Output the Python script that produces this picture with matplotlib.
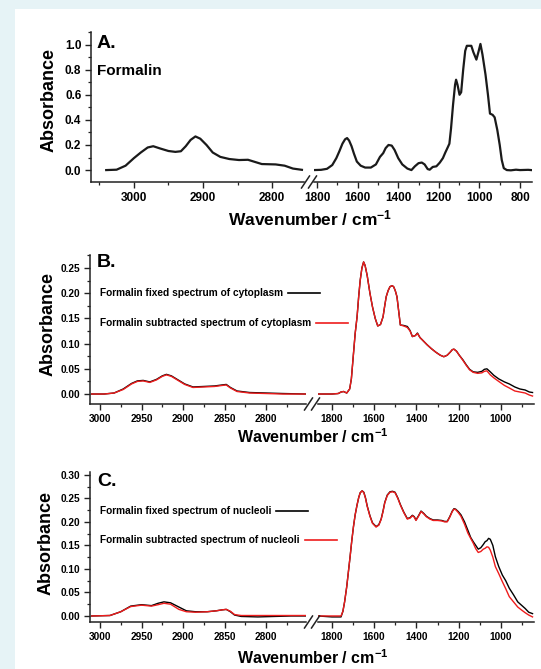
import matplotlib
matplotlib.use('Agg')
import matplotlib.pyplot as plt
from matplotlib.lines import Line2D
from matplotlib.patches import Rectangle
from matplotlib.ticker import MultipleLocator, FormatStrFormatter

plt.rcParams['font.family'] = ['Liberation Sans', 'DejaVu Sans']
plt.rcParams['font.weight'] = 'bold'
plt.rcParams['mathtext.fontset'] = 'custom'
plt.rcParams['mathtext.rm'] = 'Liberation Sans:bold'
plt.rcParams['mathtext.bf'] = 'Liberation Sans:bold'
plt.rcParams['mathtext.default'] = 'bf'

W, H = 541, 669

# ---- panel A: formalin
a_wn_hi = [3040, 3025, 3012, 3000, 2990, 2980, 2972, 2962, 2950, 2940, 2932, 2925,
           2918, 2911, 2904, 2895, 2886, 2875, 2862, 2848, 2835, 2825, 2815, 2795,
           2782, 2770, 2757]
a_abs_hi = [0.000, 0.003, 0.035, 0.095, 0.140, 0.180, 0.190, 0.172, 0.152, 0.145, 0.150, 0.190,
            0.240, 0.268, 0.250, 0.200, 0.140, 0.105, 0.088, 0.080, 0.082, 0.065, 0.048, 0.045,
            0.035, 0.012, 0.002]
a_wn_lo = [1815, 1780, 1751, 1725, 1705, 1690, 1675, 1662, 1652, 1642, 1630, 1618, 1604,
           1585, 1563, 1535, 1510, 1490, 1474, 1462, 1448, 1432, 1418, 1400, 1380, 1355,
           1335, 1318, 1300, 1284, 1270, 1255, 1245, 1230, 1212, 1195, 1180, 1168, 1155,
           1148, 1140, 1130, 1120, 1115, 1108, 1098, 1090, 1080, 1070, 1062, 1040, 1030,
           1015, 1005, 995, 985, 970, 958, 948, 935, 925, 912, 900, 890, 880, 865, 845,
           820, 800, 760, 745]
a_abs_lo = [0.000, 0.002, 0.010, 0.040, 0.095, 0.150, 0.210, 0.245, 0.255, 0.235, 0.190, 0.130, 0.068,
            0.035, 0.020, 0.020, 0.045, 0.105, 0.135, 0.175, 0.200, 0.195, 0.160, 0.095, 0.045, 0.012,
            0.000, 0.030, 0.055, 0.060, 0.045, 0.008, 0.003, 0.025, 0.030, 0.060, 0.095, 0.140, 0.185,
            0.210, 0.330, 0.520, 0.680, 0.720, 0.680, 0.600, 0.620, 0.800, 0.950, 0.990, 0.990, 0.940,
            0.880, 0.940, 1.005, 0.920, 0.760, 0.600, 0.450, 0.440, 0.420, 0.320, 0.200, 0.080, 0.015,
            0.000, -0.002, 0.003, 0.000, 0.002, 0.000]

# ---- panel B: cytoplasm
b_wn_hi = [3010, 2995, 2983, 2972, 2962, 2955, 2948, 2940, 2932, 2925, 2920, 2914, 2906,
           2898, 2888, 2875, 2862, 2853, 2848, 2843, 2835, 2820, 2800, 2780, 2752]
b_fixed_hi = [0.000, 0.000, 0.002, 0.010, 0.021, 0.026, 0.027, 0.024, 0.029, 0.036, 0.039, 0.036, 0.028,
              0.020, 0.014, 0.015, 0.016, 0.018, 0.019, 0.013, 0.006, 0.003, 0.002, 0.001, 0.000]
b_sub_hi = [0.000, 0.000, 0.002, 0.009, 0.020, 0.025, 0.026, 0.023, 0.028, 0.035, 0.038, 0.035, 0.027,
            0.019, 0.013, 0.014, 0.015, 0.017, 0.018, 0.012, 0.005, 0.002, 0.001, 0.000, 0.000]
b_wn_lo = [1866, 1830, 1800, 1770, 1757, 1745, 1730, 1716, 1708, 1698, 1690, 1681, 1673, 1666,
           1658, 1650, 1643, 1633, 1620, 1608, 1595, 1583, 1570, 1558, 1550, 1543, 1534, 1525,
           1515, 1508, 1500, 1492, 1484, 1476, 1460, 1443, 1430, 1419, 1405, 1395, 1383, 1371,
           1350, 1329, 1308, 1287, 1270, 1254, 1240, 1230, 1222, 1210, 1197, 1180, 1164, 1148,
           1131, 1110, 1090, 1078, 1066, 1050, 1033, 1010, 983, 960, 934, 910, 885, 865, 850]
b_fixed_lo = [0.000, 0.000, 0.000, 0.001, 0.004, 0.005, 0.002, 0.010, 0.030, 0.080, 0.120, 0.153, 0.195, 0.226,
              0.250, 0.262, 0.255, 0.235, 0.200, 0.173, 0.150, 0.135, 0.138, 0.153, 0.175, 0.193, 0.205, 0.213,
              0.215, 0.213, 0.205, 0.193, 0.165, 0.137, 0.136, 0.134, 0.126, 0.114, 0.116, 0.121, 0.112, 0.107,
              0.098, 0.090, 0.083, 0.077, 0.074, 0.077, 0.083, 0.088, 0.089, 0.085, 0.077, 0.068, 0.058, 0.049,
              0.044, 0.043, 0.045, 0.049, 0.050, 0.044, 0.037, 0.030, 0.024, 0.020, 0.014, 0.010, 0.008, 0.004, 0.003]
b_sub_lo = [0.000, 0.000, 0.000, 0.001, 0.004, 0.005, 0.002, 0.010, 0.030, 0.080, 0.120, 0.153, 0.195, 0.226,
            0.250, 0.262, 0.255, 0.235, 0.200, 0.173, 0.150, 0.135, 0.138, 0.153, 0.175, 0.193, 0.205, 0.213,
            0.215, 0.213, 0.205, 0.193, 0.165, 0.137, 0.135, 0.132, 0.125, 0.114, 0.116, 0.120, 0.112, 0.107,
            0.098, 0.090, 0.083, 0.077, 0.074, 0.077, 0.083, 0.088, 0.089, 0.085, 0.077, 0.067, 0.057, 0.048,
            0.043, 0.041, 0.042, 0.045, 0.046, 0.038, 0.032, 0.025, 0.017, 0.012, 0.006, 0.004, 0.002, -0.002, -0.004]

# ---- panel C: nucleoli
c_wn_hi = [3010, 2988, 2975, 2963, 2950, 2938, 2930, 2923, 2915, 2905, 2896, 2885,
           2871, 2860, 2853, 2848, 2843, 2838, 2830, 2810, 2790, 2770, 2752]
c_fixed_hi = [0.000, 0.001, 0.009, 0.021, 0.024, 0.022, 0.027, 0.030, 0.028, 0.019, 0.011, 0.009,
              0.009, 0.011, 0.013, 0.014, 0.009, 0.002, -0.001, -0.002, -0.001, 0.000, 0.000]
c_sub_hi = [0.000, 0.001, 0.009, 0.020, 0.023, 0.021, 0.024, 0.027, 0.025, 0.014, 0.009, 0.008,
            0.009, 0.011, 0.013, 0.014, 0.010, 0.003, 0.001, 0.001, 0.001, 0.001, 0.001]
c_wn_lo = [1866, 1800, 1757, 1748, 1740, 1730, 1722, 1714, 1706, 1698, 1690, 1681, 1673, 1666,
           1657, 1649, 1641, 1633, 1620, 1608, 1591, 1578, 1567, 1558, 1550, 1538, 1525, 1513,
           1501, 1488, 1476, 1460, 1443, 1430, 1419, 1410, 1402, 1390, 1378, 1365, 1353, 1336,
           1320, 1300, 1280, 1266, 1254, 1242, 1230, 1222, 1214, 1202, 1189, 1172, 1156, 1143,
           1131, 1119, 1107, 1095, 1083, 1074, 1066, 1058, 1050, 1038, 1026, 1010, 993, 977,
           960, 940, 920, 900, 885, 868, 850]
c_sub_lo = [0.000, 0.000, 0.000, 0.010, 0.030, 0.062, 0.094, 0.126, 0.160, 0.190, 0.215, 0.236, 0.252, 0.262,
            0.266, 0.262, 0.250, 0.233, 0.212, 0.197, 0.189, 0.193, 0.205, 0.222, 0.240, 0.256, 0.263, 0.264,
            0.262, 0.250, 0.236, 0.220, 0.206, 0.208, 0.213, 0.210, 0.203, 0.212, 0.222, 0.217, 0.211, 0.206,
            0.203, 0.203, 0.202, 0.200, 0.200, 0.210, 0.222, 0.227, 0.226, 0.220, 0.212, 0.195, 0.176, 0.165,
            0.155, 0.143, 0.135, 0.137, 0.142, 0.144, 0.147, 0.146, 0.140, 0.125, 0.105, 0.090, 0.073, 0.058,
            0.041, 0.030, 0.019, 0.012, 0.007, 0.002, -0.002]
c_fixed_lo = [0.000, -0.002, -0.002, 0.010, 0.030, 0.062, 0.094, 0.126, 0.160, 0.190, 0.215, 0.236, 0.252, 0.262,
              0.266, 0.263, 0.251, 0.234, 0.213, 0.198, 0.190, 0.194, 0.206, 0.223, 0.241, 0.257, 0.264, 0.265,
              0.263, 0.251, 0.237, 0.221, 0.207, 0.209, 0.214, 0.211, 0.204, 0.213, 0.223, 0.218, 0.212, 0.207,
              0.204, 0.204, 0.203, 0.201, 0.201, 0.211, 0.223, 0.228, 0.227, 0.222, 0.215, 0.200, 0.182, 0.167,
              0.158, 0.150, 0.142, 0.145, 0.152, 0.158, 0.160, 0.165, 0.163, 0.150, 0.126, 0.105, 0.087, 0.075,
              0.059, 0.045, 0.030, 0.022, 0.016, 0.008, 0.005]

legend_b = ['Formalin fixed spectrum of cytoplasm', 'Formalin subtracted spectrum of cytoplasm']
legend_c = ['Formalin fixed spectrum of nucleoli', 'Formalin subtracted spectrum of nucleoli']

fig = plt.figure(figsize=(W / 100, H / 100), dpi=100)
fig.patch.set_facecolor('#e6f3f6')
fig.add_artist(Rectangle((15 / W, 0), 1 - 15 / W, 1 - 9 / H, transform=fig.transFigure,
                         facecolor='white', edgecolor='none', zorder=-10))


def fx(px):
    return px / W


def fy(py):
    return 1 - py / H


def rect(x0, x1, y0, y1):
    return [fx(x0), fy(y1), (x1 - x0) / W, (y1 - y0) / H]


def style(ax, left_spine, fs):
    ax.set_facecolor('none')
    for s in ['top', 'right']:
        ax.spines[s].set_visible(False)
    ax.spines['left'].set_visible(left_spine)
    for s in ['left', 'bottom']:
        ax.spines[s].set_color('#222222')
        ax.spines[s].set_linewidth(1.1)
    ax.tick_params(which='major', direction='out', length=4, width=1, labelsize=fs,
                   color='#222222', pad=3)
    ax.tick_params(which='minor', direction='out', length=2.5, width=0.9, color='#222222')
    if not left_spine:
        ax.tick_params(axis='y', which='both', left=False, labelleft=False)


def panel(xl, xg, xr, yt, yb, lim_hi, lim_lo, ylim, ystep, ymin, yfmt, xstep_hi, xmin_hi, fs):
    ax1 = fig.add_axes(rect(xl, xg[0], yt, yb))
    ax2 = fig.add_axes(rect(xg[1], xr, yt, yb))
    style(ax1, True, fs)
    style(ax2, False, fs)
    ax1.set_xlim(*lim_hi)
    ax2.set_xlim(*lim_lo)
    ax1.set_ylim(*ylim)
    ax2.set_ylim(*ylim)
    ax1.xaxis.set_major_locator(MultipleLocator(xstep_hi))
    ax1.xaxis.set_minor_locator(MultipleLocator(xmin_hi))
    ax2.xaxis.set_major_locator(MultipleLocator(200))
    ax2.xaxis.set_minor_locator(MultipleLocator(100))
    ax1.yaxis.set_major_locator(MultipleLocator(ystep))
    ax1.yaxis.set_minor_locator(MultipleLocator(ymin))
    ax1.yaxis.set_major_formatter(FormatStrFormatter(yfmt))
    # break marks
    gc = (xg[0] + xg[1]) / 2
    for d in (-3.5, 3.5):
        fig.add_artist(Line2D([fx(gc + d - 4), fx(gc + d + 4)], [fy(yb + 6), fy(yb - 6)],
                              transform=fig.transFigure, color='#222222', lw=1.1))
    return ax1, ax2


# A
a1, a2 = panel(91, (304, 314), 532, 32, 182, (3062, 2754), (1815, 741), (-0.095, 1.10),
               0.2, 0.1, '%.1f', 100, 50, 8.5)
a1.plot(a_wn_hi, a_abs_hi, color='#1a1a1a', lw=1.6)
a2.plot(a_wn_lo, a_abs_lo, color='#1a1a1a', lw=1.6)
fig.text(fx(97), fy(44), 'A.', fontsize=14, ha='left', va='center')
fig.text(fx(97), fy(71), 'Formalin', fontsize=11, ha='left', va='center')
fig.text(fx(49), fy(100), 'Absorbance', fontsize=13, rotation=90, ha='center', va='center')
fig.text(fx(310), fy(218), 'Wavenumber / cm$^{-1}$', fontsize=12.5, ha='center', va='center')

# B
b1, b2 = panel(90, (306, 318), 534, 255, 404, (3012, 2752), (1866, 843), (-0.0198, 0.2758),
               0.05, 0.025, '%.2f', 50, 25, 7.3)
b1.plot(b_wn_hi, b_fixed_hi, color='black', lw=1.0)
b1.plot(b_wn_hi, b_sub_hi, color='#ee1c1c', lw=1.0)
b2.plot(b_wn_lo, b_fixed_lo, color='black', lw=1.0)
b2.plot(b_wn_lo, b_sub_lo, color='#ee1c1c', lw=1.0)
fig.text(fx(97), fy(263), 'B.', fontsize=14, ha='left', va='center')
fig.text(fx(48), fy(324), 'Absorbance', fontsize=13, rotation=90, ha='center', va='center')
fig.text(fx(313), fy(437), 'Wavenumber / cm$^{-1}$', fontsize=11.5, ha='center', va='center')

# C
c1, c2 = panel(90, (306, 318), 534, 472, 622, (3012, 2752), (1866, 843), (-0.0128, 0.306),
               0.05, 0.025, '%.2f', 50, 25, 7.3)
c1.plot(c_wn_hi, c_fixed_hi, color='black', lw=1.0)
c1.plot(c_wn_hi, c_sub_hi, color='#ee1c1c', lw=1.0)
c2.plot(c_wn_lo, c_fixed_lo, color='black', lw=1.0)
c2.plot(c_wn_lo, c_sub_lo, color='#ee1c1c', lw=1.0)
fig.text(fx(97), fy(482), 'C.', fontsize=14, ha='left', va='center')
fig.text(fx(46), fy(543), 'Absorbance', fontsize=13, rotation=90, ha='center', va='center')
fig.text(fx(313), fy(658), 'Wavenumber / cm$^{-1}$', fontsize=11.5, ha='center', va='center')

# legends: text followed by a short line sample
leg_items = []
for labels, ys in ((legend_b, (293, 323)), (legend_c, (511, 540))):
    for lab, y, col in zip(labels, ys, ('black', '#ee1c1c')):
        t = fig.text(fx(100), fy(y), lab, fontsize=7.3, ha='left', va='center')
        leg_items.append((t, col))

fig.canvas.draw()
r = fig.canvas.get_renderer()
inv = fig.transFigure.inverted()
for t, col in leg_items:
    bb = t.get_window_extent(r)
    ym = (bb.y0 + bb.y1) / 2
    p0 = inv.transform((bb.x1 + 5, ym))
    p1 = inv.transform((bb.x1 + 37, ym))
    fig.add_artist(Line2D([p0[0], p1[0]], [p0[1], p1[1]], transform=fig.transFigure,
                          color=col, lw=1.2))

fig.savefig('out.png', dpi=100)
